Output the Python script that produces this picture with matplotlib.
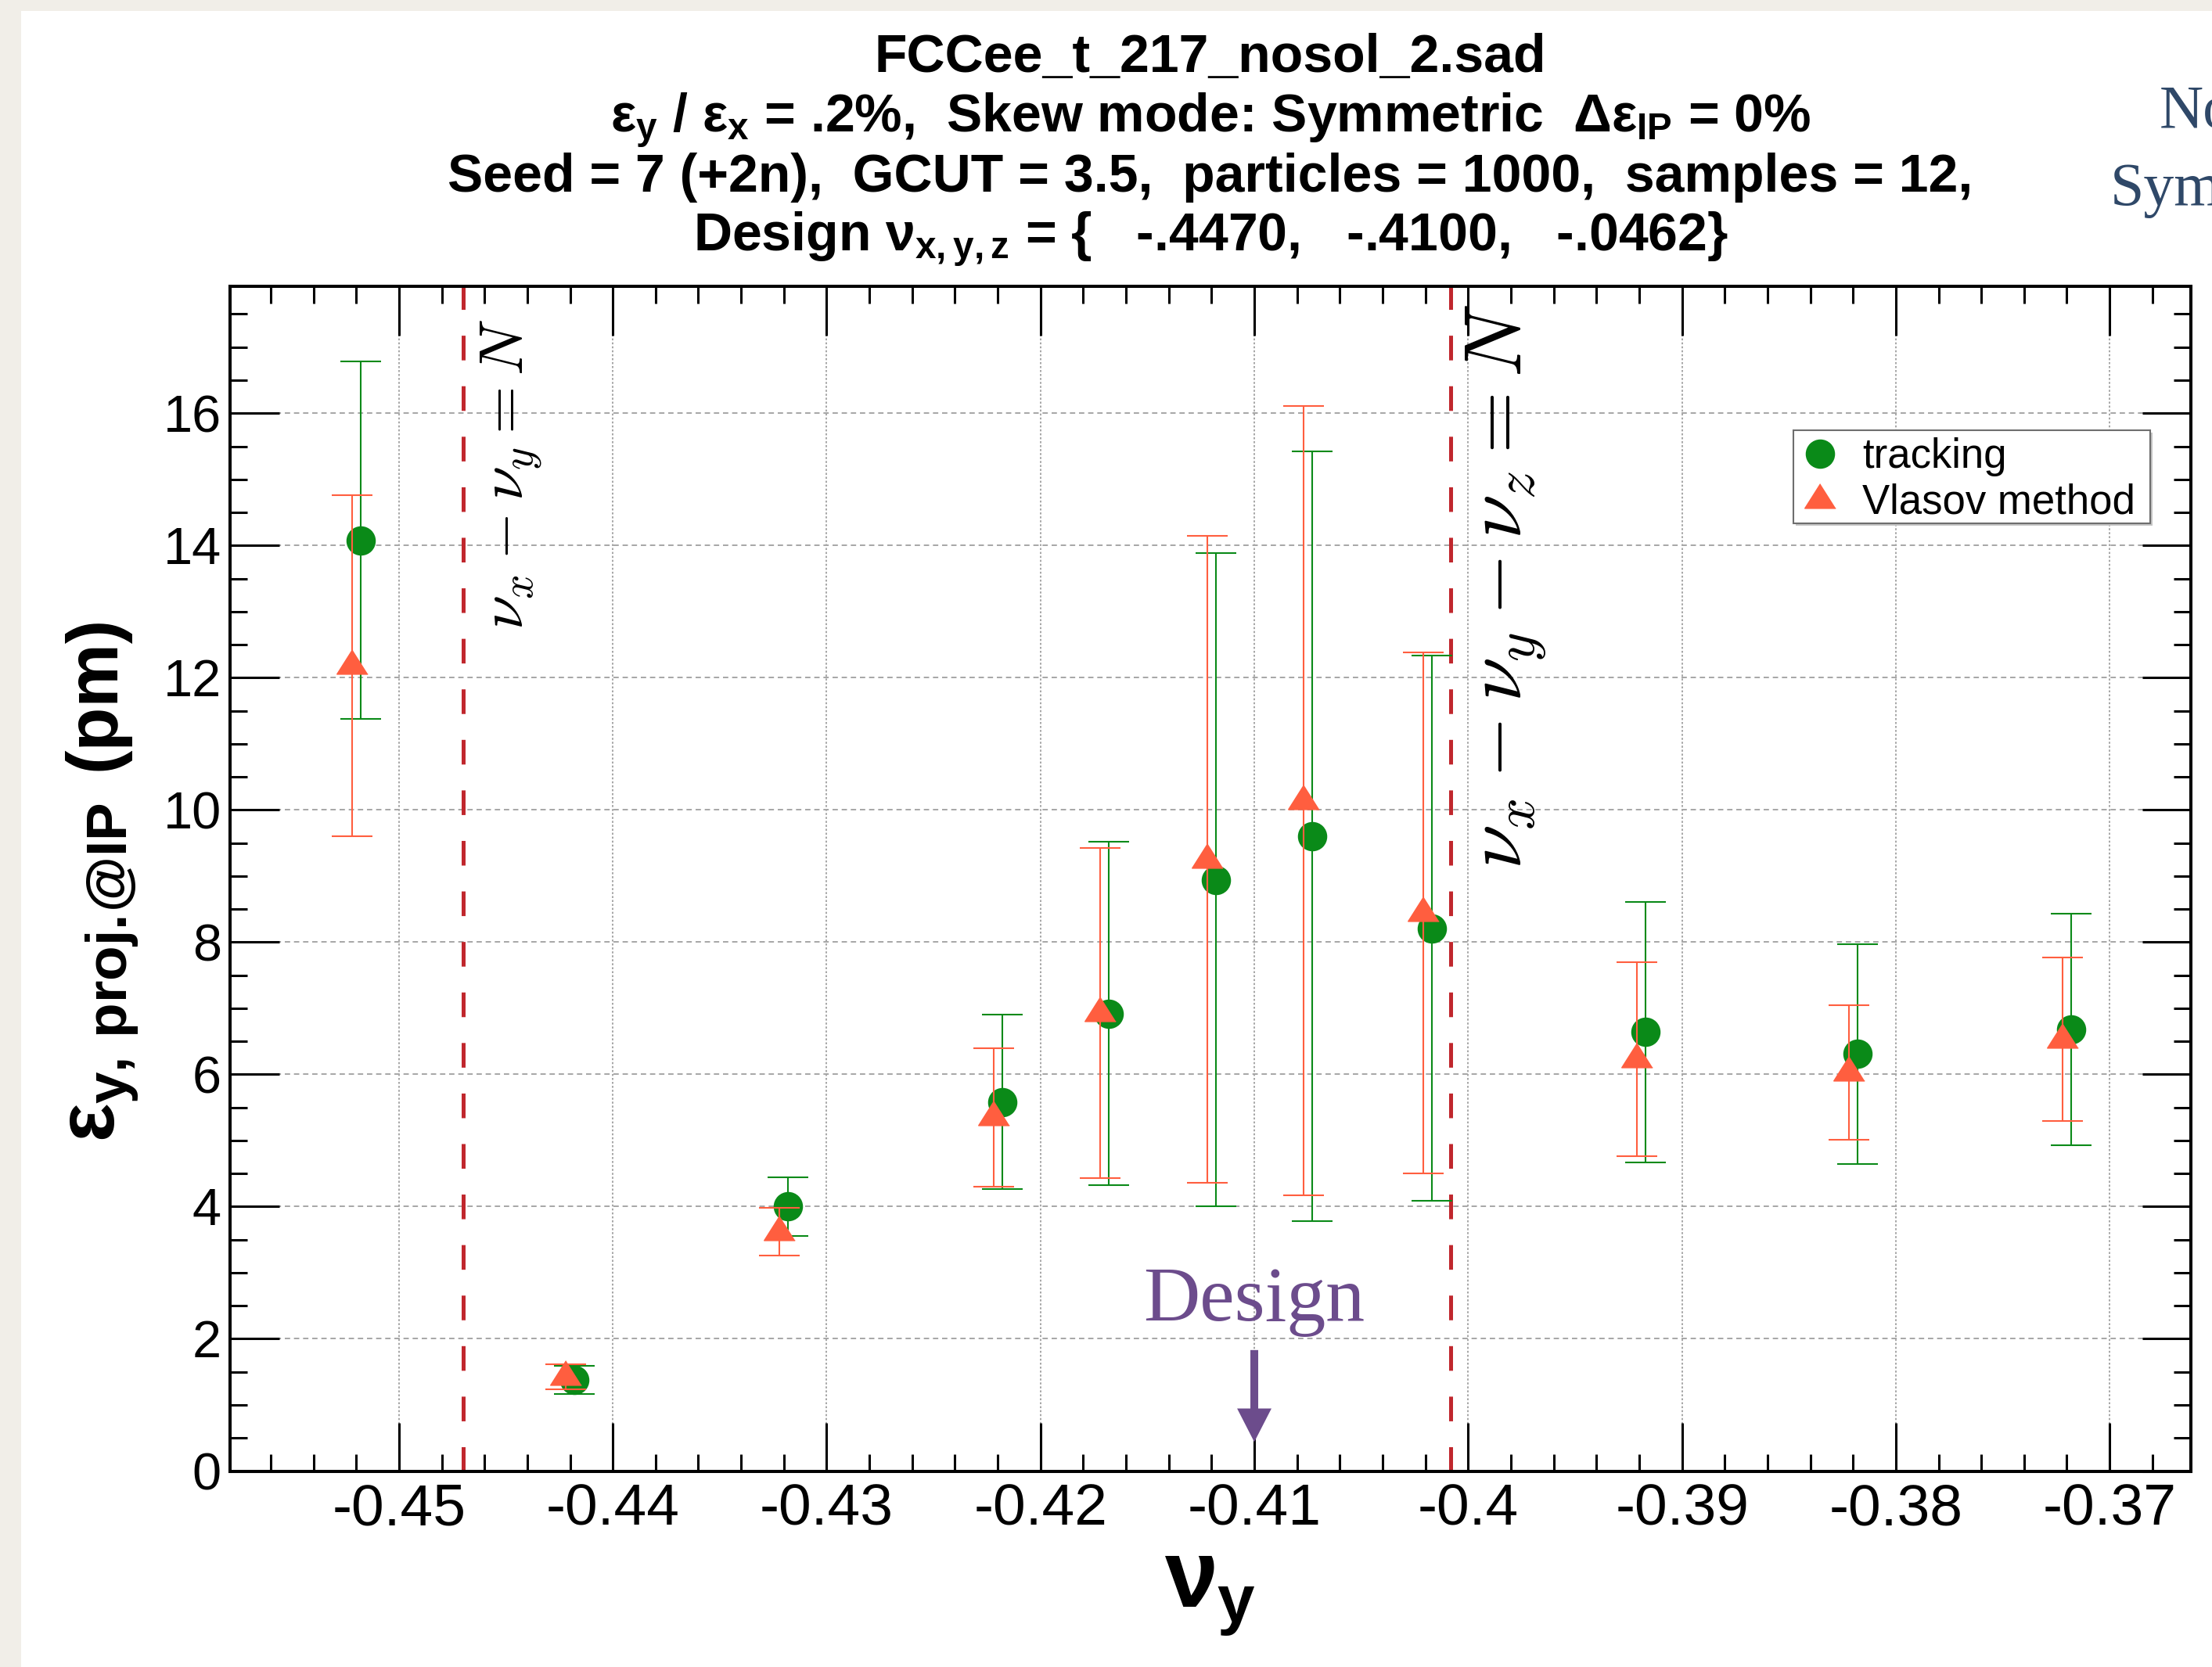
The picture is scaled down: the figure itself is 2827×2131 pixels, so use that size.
import matplotlib
matplotlib.use("Agg")
import matplotlib.pyplot as plt
from matplotlib.lines import Line2D
from matplotlib.patches import Rectangle
from matplotlib.ticker import MultipleLocator, FuncFormatter

plt.rcParams['font.family'] = ['Liberation Sans', 'DejaVu Sans']
plt.rcParams['mathtext.fontset'] = 'custom'
plt.rcParams['mathtext.rm'] = 'Liberation Sans:bold'
plt.rcParams['mathtext.it'] = 'Liberation Sans:bold'
plt.rcParams['mathtext.bf'] = 'Liberation Sans:bold'
plt.rcParams['axes.unicode_minus'] = False

# Design working point (fractional tunes)
NU_X, NU_Y, NU_Z = -0.4470, -0.4100, -0.0462

# Tracking scan: vertical tune vs projected vertical emittance at IP (pm)
nu_y_track = [-0.4518, -0.4418, -0.4318, -0.4218, -0.4168, -0.4118,
              -0.4073, -0.4017, -0.3917, -0.3818, -0.3718]
emit_track = [14.08, 1.38, 4.00, 5.58, 6.92, 8.94, 9.60, 8.21, 6.64, 6.31, 6.68]
err_track = [2.70, 0.21, 0.44, 1.32, 2.60, 4.94, 5.82, 4.12, 1.97, 1.66, 1.75]

# Vlasov method scan
nu_y_vlasov = [-0.4522, -0.4422, -0.4322, -0.4222, -0.4172, -0.4122,
               -0.4077, -0.4021, -0.3921, -0.3822, -0.3722]
emit_vlasov = [12.18, 1.43, 3.62, 5.35, 6.93, 9.25, 10.14, 8.44, 6.23, 6.03, 6.53]
err_vlasov = [2.58, 0.19, 0.36, 1.05, 2.50, 4.89, 5.97, 3.94, 1.47, 1.02, 1.24]

# Resonance lines crossing the scan: nu_x - nu_y = N and nu_x - nu_y - nu_z = N
res_lines = [NU_X, NU_X - NU_Z]
res_labels = [r'$\nu_x - \nu_y = N$', r'$\nu_x - \nu_y - \nu_z = N$']

title_lines = [
    'FCCee_t_217_nosol_2.sad',
    r'$ε_y$ / $ε_x$ = .2%,  Skew mode: Symmetric  $Δε_{IP}$ = 0%',
    'Seed = 7 (+2n),  GCUT = 3.5,  particles = 1000,  samples = 12,',
    r'Design $ν_{x,y,z}$ = {   -.4470,   -.4100,   -.0462}',
]

GREEN = '#0a8a18'
ORANGE = '#ff5e3f'
RED = '#c0272d'
PURPLE = '#6c4c8c'
SLATE = '#2f4868'
TRI = [(0, 1.0), (-0.95, -0.5), (0.95, -0.5)]

W, H = 2827, 2131
fig = plt.figure(figsize=(W / 100, H / 100), dpi=100, facecolor='#f1eee8')
fig.patches.append(Rectangle((27 / W, 0), 1, 1 - 14 / H, transform=fig.transFigure,
                             facecolor='white', edgecolor='none', zorder=-5))

ax = fig.add_axes([294 / W, 1 - 1880.5 / H, (2800 - 294) / W, (1880.5 - 366) / H])
ax.set_xlim(-0.4579, -0.3662)
ax.set_ylim(0, 17.92)

ax.xaxis.set_major_locator(MultipleLocator(0.01))
ax.xaxis.set_minor_locator(MultipleLocator(0.002))
ax.yaxis.set_major_locator(MultipleLocator(2))
ax.yaxis.set_minor_locator(MultipleLocator(0.5))
ax.xaxis.set_major_formatter(FuncFormatter(lambda v, p: f'{v:g}'))
ax.yaxis.set_major_formatter(FuncFormatter(lambda v, p: f'{v:g}'))

ax.tick_params(which='both', direction='in', top=True, right=True, width=2.2)
ax.tick_params(which='major', length=45)
ax.tick_params(which='minor', length=16)
ax.tick_params(axis='x', labelsize=54, pad=11)
ax.tick_params(axis='y', labelsize=48, pad=8)
for s in ax.spines.values():
    s.set_linewidth(2.9)

ax.set_axisbelow(True)
ax.xaxis.grid(True, which='major', color='#a6a6a6', lw=1.4, linestyle=(0, (1.3, 1.3)))
ax.yaxis.grid(True, which='major', color='#a6a6a6', lw=1.4, linestyle=(0, (3.5, 2.5)))

# resonance lines, running a little above the frame
for x in res_lines:
    ax.plot([x, x], [0, 18.23], color=RED, lw=3.6,
            linestyle=(0, (22.7 / 3.6, 23.8 / 3.6)), clip_on=False, zorder=2)

ax.text(-0.44423, 17.43, res_labels[0], rotation=90, rotation_mode='anchor',
        ha='right', va='baseline', fontsize=57, math_fontfamily='cm')
ax.text(-0.3975, 17.65, res_labels[1], rotation=90, rotation_mode='anchor',
        ha='right', va='baseline', fontsize=74, math_fontfamily='cm')

ax.errorbar(nu_y_track, emit_track, yerr=err_track, fmt='o', color=GREEN, ms=26,
            elinewidth=1.5, capsize=18.5, capthick=1.5, zorder=3)
ax.errorbar(nu_y_vlasov, emit_vlasov, yerr=err_vlasov, fmt='none', ecolor=ORANGE,
            elinewidth=1.5, capsize=18.5, capthick=1.5, zorder=4)
ax.plot(nu_y_vlasov, emit_vlasov, ls='none', marker=TRI, ms=30, color=ORANGE, zorder=4)

# design tune marker
ax.annotate('', xy=(NU_Y, 0.44), xytext=(NU_Y, 1.83),
            arrowprops=dict(arrowstyle='simple,head_length=0.77,head_width=0.79,tail_width=0.18',
                            mutation_scale=40, color=PURPLE, lw=0, shrinkA=0, shrinkB=0))
ax.text(NU_Y, 2.28, 'Design', ha='center', va='baseline', fontsize=72,
        family='Liberation Serif', color=PURPLE)

# legend with a square frame and drop shadow
ax.add_patch(Rectangle((0.7985, 0.7980), 0.18196, 0.07857, transform=ax.transAxes,
                       facecolor='#c4c4c4', edgecolor='none', zorder=5))
ax.add_patch(Rectangle((0.7973, 0.79993), 0.18196, 0.07857, transform=ax.transAxes,
                       facecolor='white', edgecolor='#6e6e6e', lw=1.5, zorder=5))
handles = [Line2D([], [], ls='none', marker='o', ms=26, color=GREEN),
           Line2D([], [], ls='none', marker=TRI, ms=30, color=ORANGE)]
leg = ax.legend(handles, ['tracking', 'Vlasov method'], loc='upper left',
                bbox_to_anchor=((2308 - 294) / 2506, (1880.5 - 559) / 1514.5),
                borderaxespad=0, borderpad=0, frameon=False, fontsize=38,
                labelspacing=0.17, handlelength=0.7, handletextpad=0.66)
leg.set_zorder(6)

# titles and axis labels
cx = 1547 / W
for line, base in zip(title_lines, [92, 168, 245, 320]):
    fig.text(cx, 1 - base / H, line, ha='center', va='baseline',
             fontsize=49, fontweight='bold')

fig.text(cx, 1 - 2055 / H, r'$ν_y$', ha='center', va='baseline', fontsize=88)
fig.text(147 / W, 1 - 1460 / H, r'$ε_{\mathrm{y,\,proj.\!@IP}}$', rotation=90,
         rotation_mode='anchor', ha='left', va='baseline', fontsize=75)
fig.text(147 / W, 1 - 985 / H, '(pm)', rotation=90, rotation_mode='anchor',
         ha='left', va='baseline', fontsize=66, fontweight='bold')

fig.text(2760 / W, 1 - 163 / H, 'Nominal', family='Liberation Serif', fontsize=56,
         color=SLATE, ha='left', va='baseline')
fig.text(2697 / W, 1 - 262 / H, 'Symmetric', family='Liberation Serif', fontsize=56,
         color=SLATE, ha='left', va='baseline')

fig.savefig('out.png', dpi=100, facecolor=fig.get_facecolor())
